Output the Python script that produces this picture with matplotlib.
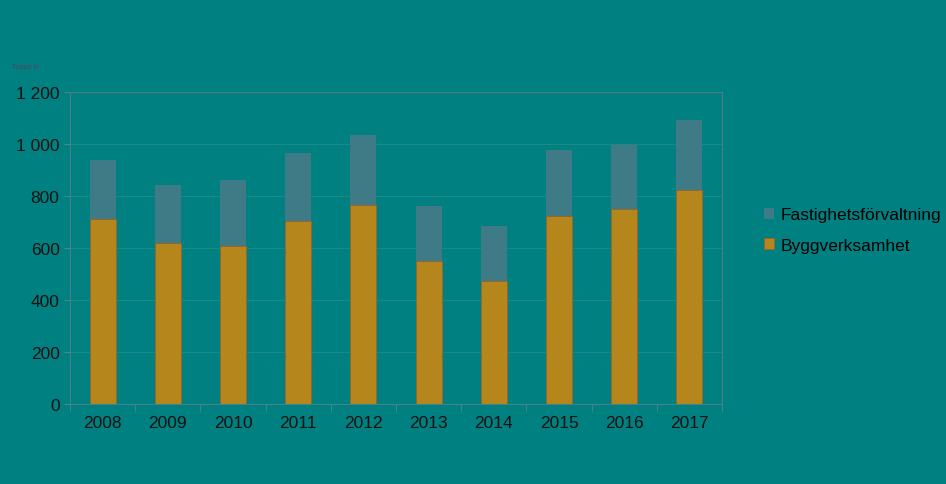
import numpy as np
import matplotlib.pyplot as plt

plt.rcParams['font.family'] = 'Liberation Sans'

years = ['2008', '2009', '2010', '2011', '2012', '2013', '2014', '2015', '2016', '2017']
bygg = [711, 618, 606, 705, 764, 549, 474, 723, 749, 822]
totals = [938, 844, 860, 965, 1035, 760, 686, 977, 997, 1092]
fastighet = [t - b for t, b in zip(totals, bygg)]

bg = '#008080'
fig = plt.figure(figsize=(9.46, 4.85), dpi=100, facecolor=bg)
ax = fig.add_axes([70 / 946, 1 - 405 / 485, 652 / 946, 312 / 485], facecolor=bg)

x = np.arange(len(years))
ax.bar(x, bygg, width=0.4, color='#b5861c', edgecolor='#a0602a', linewidth=0.6,
       label='Byggverksamhet', zorder=3)
ax.bar(x, fastighet, bottom=bygg, width=0.4, color='#3f7b86', linewidth=0,
       label='Fastighetsförvaltning', zorder=3)

ax.set_xlim(-0.5, len(years) - 0.5)
ax.set_ylim(0, 1200)
ax.set_yticks(range(0, 1201, 200))
ax.set_yticklabels(['0', '200', '400', '600', '800', '1 000', '1 200'])
ax.set_xticks(x)
ax.set_xticklabels(years)
ax.set_xticks(np.arange(-0.5, len(years), 1), minor=True)
ax.tick_params(axis='x', which='major', length=0, pad=8)
ax.tick_params(axis='x', which='minor', length=5, color='#4a8a8a')
ax.tick_params(axis='y', length=4, color='#4a8a8a')
ax.tick_params(labelsize=12.5, labelcolor='#111111')
ax.grid(axis='y', color='#1a8a86', linewidth=0.8, zorder=0)
for s in ax.spines.values():
    s.set_color('#4a7f8a')

fig.text(12 / 946, 1 - 68 / 485, 'Tusen kr', fontsize=5, color='#5a4060', va='center')

h, l = ax.get_legend_handles_labels()
fig.legend(h[::-1], l[::-1], loc='center left', bbox_to_anchor=(748 / 946, 1 - 231 / 485),
           frameon=False, fontsize=12.5, handlelength=0.6, handleheight=0.6,
           labelspacing=0.9, handletextpad=0.4)

fig.savefig('out.png', dpi=100, facecolor=bg)
